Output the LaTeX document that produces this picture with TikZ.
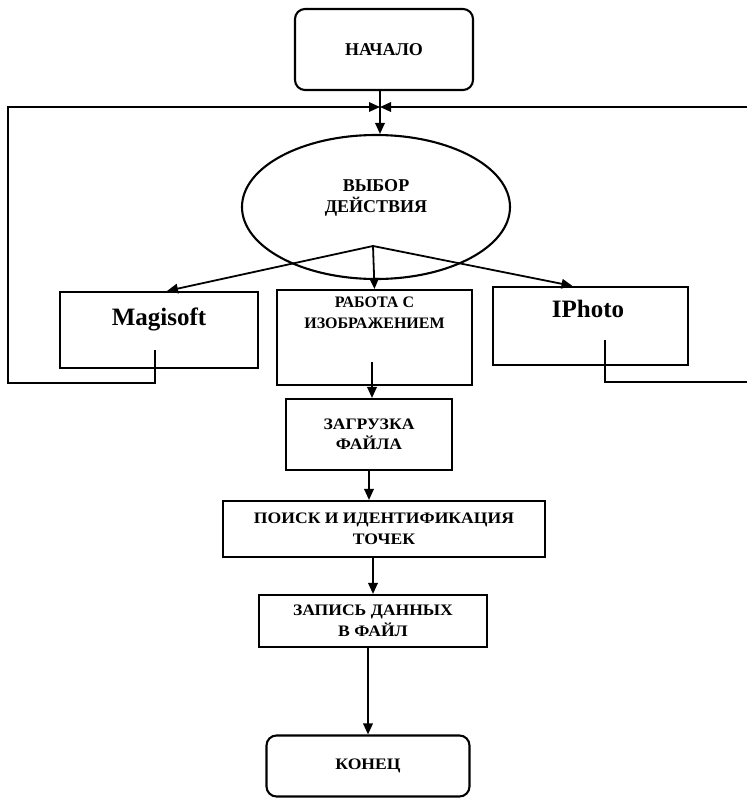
\documentclass[tikz,border=0pt]{standalone}
\usepackage{fontspec}
\setmainfont{Liberation Serif}
\newfontfamily\widefont{Liberation Serif}[FakeStretch=1.1]
\usetikzlibrary{arrows.meta,shapes.geometric}

\begin{document}
\begin{tikzpicture}[x=1pt, y=-1pt, >={Triangle[length=11pt,width=9.5pt]},
  block/.style={draw, line width=2.1pt, inner sep=0pt},
  termbox/.style={block, rounded corners=10pt},
  link/.style={->, line width=1.8pt},
  lbl/.style={font=\widefont\bfseries\fontsize{16}{20.5}\selectfont, align=center},
  biglbl/.style={font=\bfseries\fontsize{18}{21}\selectfont, align=center},
  prog/.style={font=\bfseries\fontsize{25}{28}\selectfont}]
\useasboundingbox (0,0) rectangle (747,798);

\node[termbox, minimum width=178pt, minimum height=81pt, biglbl] (start) at (384,49.5) {НАЧАЛО};
\node[block, ellipse, minimum width=268pt, minimum height=144pt] (choice) at (376,207) {};
\node[biglbl] (choicetext) at (376,198) {ВЫБОР\\ДЕЙСТВИЯ};

\node[block, minimum width=198pt, minimum height=76pt] (magi) at (159,330) {};
\node[prog] (magitext) at (159,319) {Magisoft};
\node[block, minimum width=195pt, minimum height=95pt] (mid) at (374.5,337.5) {};
\node[lbl, font=\bfseries\fontsize{16}{21}\selectfont] (midtext) at (374.5,313) {РАБОТА С\\ИЗОБРАЖЕНИЕМ};
\node[block, minimum width=195pt, minimum height=78pt] (iph) at (590.5,326) {};
\node[prog] (iphtext) at (588,309) {IPhoto};

\node[block, lbl, minimum width=166pt, minimum height=71pt] (zag) at (369,434.5) {ЗАГРУЗКА\\ФАЙЛА};
\node[block, lbl, minimum width=322pt, minimum height=56pt] (poisk) at (384,529) {ПОИСК И ИДЕНТИФИКАЦИЯ\\ТОЧЕК};
\node[block, lbl, minimum width=228pt, minimum height=52pt] (zapis) at (373,621) {ЗАПИСЬ ДАННЫХ\\В ФАЙЛ};
\node[termbox, lbl, minimum width=203pt, minimum height=61pt] (konec) at (368,766) {КОНЕЦ};

\coordinate (junction) at (380,107);
\coordinate (fork) at (373,246);
\coordinate (magiout) at (155,350);
\coordinate (lbot) at (8,383);
\coordinate (iphout) at (605,340);
\coordinate (rbot) at (747.8,382);
\coordinate (midout) at (372,362);

% loop back to the choice
\draw[link] (start.south -| junction) -- (junction |- choice.north);
\draw[link] (magiout) |- (lbot) |- (junction);
\draw[link] (iphout) |- (rbot) |- (junction);

\draw[link] (fork) -- ([xshift=8pt]magi.north);
\draw[link] (fork) -- (mid.north);
\draw[link] (fork) -- ([xshift=-18pt]iph.north);

\draw[link] (midout) -- (midout |- zag.north);
\draw[link] (zag.south) -- (zag.south |- poisk.north);
\draw[link] (zapis.north |- poisk.south) -- (zapis.north);
\draw[link] (konec.north |- zapis.south) -- (konec.north);

\end{tikzpicture}
\end{document}
